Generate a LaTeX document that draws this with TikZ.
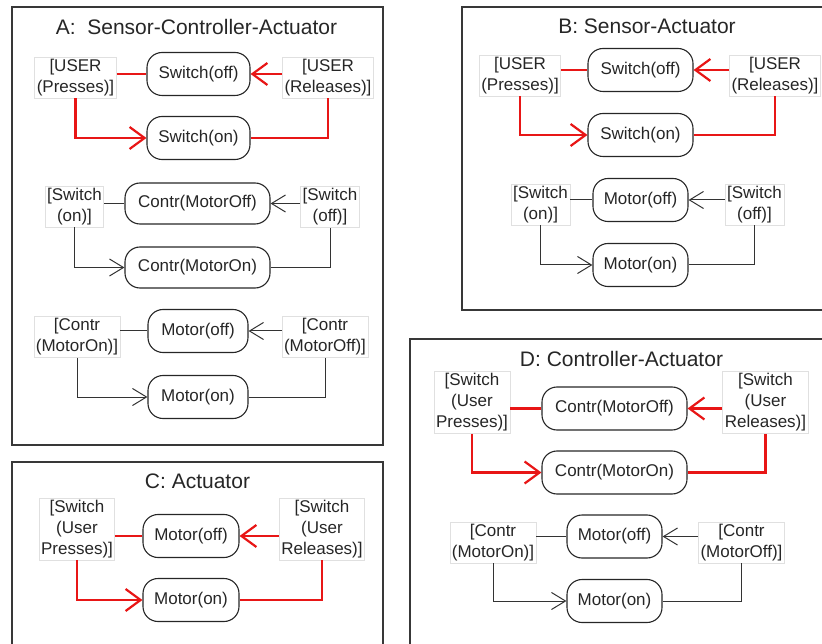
\documentclass[tikz,border=0pt]{standalone}
\usepackage{fontspec}
\setmainfont{Liberation Sans}
\usetikzlibrary{arrows.meta}
\definecolor{wire}{RGB}{232,22,22}

\begin{document}
\begin{tikzpicture}[x=1pt,y=-1pt,
  panel/.style={draw=black!78, line width=1.2pt},
  heading/.style={font=\fontsize{21}{24}\selectfont, text=black!85},
  state/.style={draw=black!85, line width=1.1pt, rounded corners=15pt,
    minimum height=43pt, inner xsep=0pt, font=\fontsize{17}{21}\selectfont, text=black!85},
  cond/.style={draw=black!12, line width=0.8pt, align=center, inner xsep=2pt,
    inner ysep=2pt, font=\fontsize{17}{21}\selectfont, text=black!85},
  hot/.style={draw=wire, line width=2.2pt},
  cold/.style={draw=black!80, line width=1pt},
  hotto/.style={hot, -{Straight Barb[length=15pt,width=22pt]}},
  coldto/.style={cold, -{Straight Barb[length=14pt,width=17pt]}}
]
\clip (0,0) rectangle (822,644);
\path[use as bounding box] (0,0) rectangle (822,644);

% ---------- panel frames ----------
\draw[panel] (12,7) rectangle (383,445);
\draw[panel] (462,7) rectangle (840,310);
\draw[panel] (12,462) rectangle (383,660);
\draw[panel] (410,339) rectangle (840,660);

% ---------- A: Sensor-Controller-Actuator ----------
\node[heading] (tA) at (196.5,26.5) {A:\ \ Sensor-Controller-Actuator};

\node[state, minimum width=103pt] (aSoff) at (198.5,74) {Switch(off)};
\node[state, minimum width=103pt] (aSon)  at (198.5,138) {Switch(on)};
\node[cond] (aP) at (75.5,77.5) {[USER\\(Presses)]};
\node[cond] (aR) at (328,77.5) {[USER\\(Releases)]};
\draw[hot] (aP.east |- aSoff.west) -- (aSoff.west);
\draw[hotto] (aR.west |- aSoff.east) -- (aSoff.east);
\draw[hotto] (aP.south) |- (aSon.west);
\draw[hot] (aR.south) |- (aSon.east);

\node[state, minimum width=145pt, minimum height=41pt] (aCoff) at (197.5,203.5) {Contr(MotorOff)};
\node[state, minimum width=145pt, minimum height=41pt] (aCon)  at (197.5,267.5) {Contr(MotorOn)};
\node[cond] (aS1) at (74.5,206.5) {[Switch\\(on)]};
\node[cond] (aS0) at (330,207) {[Switch\\(off)]};
\draw[cold] (aS1.east |- aCoff.west) -- (aCoff.west);
\draw[coldto] (aS0.west |- aCoff.east) -- (aCoff.east);
\draw[coldto] (aS1.south) |- (aCon.west);
\draw[cold] (aS0.south) |- (aCon.east);

\node[state, minimum width=100pt] (aMoff) at (198,331) {Motor(off)};
\node[state, minimum width=100pt] (aMon)  at (198,397) {Motor(on)};
\node[cond] (aC1) at (77,337) {[Contr\\(MotorOn)]};
\node[cond] (aC0) at (325,337) {[Contr\\(MotorOff)]};
\draw[cold] (aC1.east |- aMoff.west) -- (aMoff.west);
\draw[coldto] (aC0.west |- aMoff.east) -- (aMoff.east);
\draw[coldto] (aC1.south) |- (aMon.west);
\draw[cold] (aC0.south) |- (aMon.east);

% ---------- B: Sensor-Actuator ----------
\node[heading] (tB) at (647,26.5) {B: Sensor-Actuator};

\node[state, minimum width=105pt] (bSoff) at (640.5,70) {Switch(off)};
\node[state, minimum width=105pt] (bSon)  at (640.5,135) {Switch(on)};
\node[cond] (bP) at (520,75.5) {[USER\\(Presses)]};
\node[cond] (bR) at (775,75.5) {[USER\\(Releases)]};
\draw[hot] (bP.east |- bSoff.west) -- (bSoff.west);
\draw[hotto] (bR.west |- bSoff.east) -- (bSoff.east);
\draw[hotto] (bP.south) |- (bSon.west);
\draw[hot] (bR.south) |- (bSon.east);

\node[state, minimum width=95pt] (bMoff) at (640.5,200) {Motor(off)};
\node[state, minimum width=95pt] (bMon)  at (640.5,265) {Motor(on)};
\node[cond] (bS1) at (540.5,204.5) {[Switch\\(on)]};
\node[cond] (bS0) at (754.5,204.5) {[Switch\\(off)]};
\draw[cold] (bS1.east |- bMoff.west) -- (bMoff.west);
\draw[coldto] (bS0.west |- bMoff.east) -- (bMoff.east);
\draw[coldto] (bS1.south) |- (bMon.west);
\draw[cold] (bS0.south) |- (bMon.east);

% ---------- C: Actuator ----------
\node[heading] (tC) at (197.5,481.5) {C: Actuator};

\node[state, minimum width=96pt] (cMoff) at (191,536) {Motor(off)};
\node[state, minimum width=96pt] (cMon)  at (191,600) {Motor(on)};
\node[cond] (cP) at (77,529) {[Switch\\(User\\Presses)]};
\node[cond] (cR) at (322,529) {[Switch\\(User\\Releases)]};
\draw[hot] (cP.east |- cMoff.west) -- (cMoff.west);
\draw[hotto] (cR.west |- cMoff.east) -- (cMoff.east);
\draw[hotto] (cP.south) |- (cMon.west);
\draw[hot] (cR.south) |- (cMon.east);

% ---------- D: Controller-Actuator ----------
\node[heading] (tD) at (621.5,358.5) {D: Controller-Actuator};

\node[state, minimum width=145pt] (dCoff) at (614.5,408.5) {Contr(MotorOff)};
\node[state, minimum width=145pt] (dCon)  at (614.5,472.5) {Contr(MotorOn)};
\node[cond] (dP) at (472,402.5) {[Switch\\(User\\Presses)]};
\node[cond] (dR) at (765.5,402.5) {[Switch\\(User\\Releases)]};
\draw[hot] (dP.east |- dCoff.west) -- (dCoff.west);
\draw[hotto] (dR.west |- dCoff.east) -- (dCoff.east);
\draw[hotto] (dP.south) |- (dCon.west);
\draw[hot] (dR.south) |- (dCon.east);

\node[state, minimum width=95pt] (dMoff) at (614.5,536.5) {Motor(off)};
\node[state, minimum width=95pt] (dMon)  at (614.5,601) {Motor(on)};
\node[cond] (dC1) at (493,542.5) {[Contr\\(MotorOn)]};
\node[cond] (dC0) at (741.5,542.5) {[Contr\\(MotorOff)]};
\draw[cold] (dC1.east |- dMoff.west) -- (dMoff.west);
\draw[coldto] (dC0.west |- dMoff.east) -- (dMoff.east);
\draw[coldto] (dC1.south) |- (dMon.west);
\draw[cold] (dC0.south) |- (dMon.east);
\end{tikzpicture}
\end{document}
